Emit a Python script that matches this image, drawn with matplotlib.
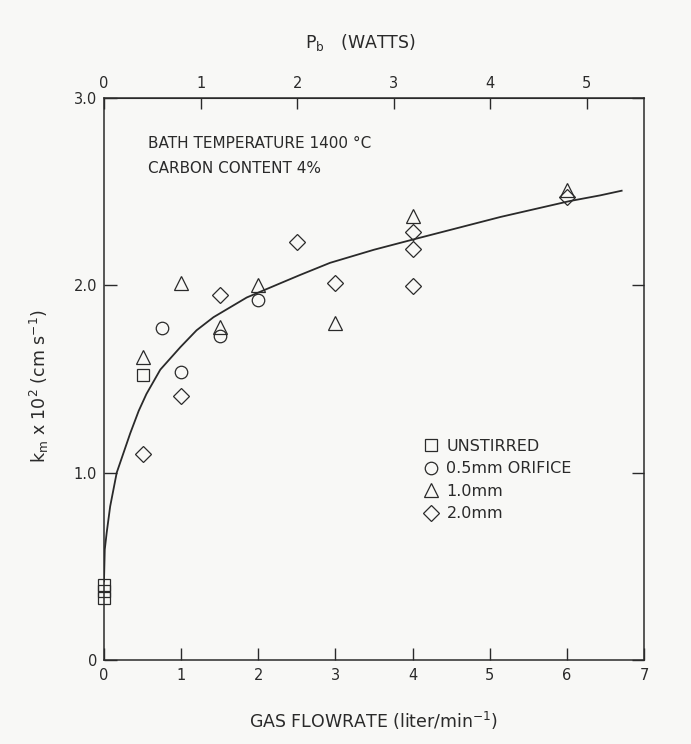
import matplotlib.pyplot as plt
from matplotlib.lines import Line2D

plt.rcParams['font.family'] = ['DejaVu Sans']
plt.rcParams['mathtext.fontset'] = 'custom'
plt.rcParams['mathtext.rm'] = 'DejaVu Sans'
plt.rcParams['mathtext.it'] = 'DejaVu Sans'
plt.rcParams['mathtext.default'] = 'regular'

# measured mass transfer coefficients, k_m x 10^2 (cm/s), vs gas flowrate (l/min)
unstirred_q = [0.0, 0.0, 0.0, 0.5]
unstirred_k = [0.40, 0.37, 0.33, 1.52]

orifice05_q = [0.75, 1.0, 1.5, 2.0]
orifice05_k = [1.77, 1.54, 1.73, 1.92]

orifice10_q = [0.5, 1.0, 1.5, 2.0, 3.0, 4.0, 6.0]
orifice10_k = [1.62, 2.01, 1.78, 2.00, 1.80, 2.37, 2.51]

orifice20_q = [0.5, 1.0, 1.5, 2.5, 3.0, 4.0, 4.0, 4.0, 6.0]
orifice20_k = [1.10, 1.41, 1.95, 2.23, 2.01, 2.285, 2.195, 1.995, 2.47]

# fitted curve through the data
fit_q = [0.0, 0.01, 0.035, 0.08, 0.165, 0.29, 0.34, 0.45, 0.55, 0.73, 0.99,
         1.2, 1.42, 1.85, 2.28, 2.54, 2.93, 3.5, 4.01, 5.14, 6.04, 6.43, 6.71]
fit_k = [0.42, 0.59, 0.68, 0.82, 1.0, 1.15, 1.21, 1.33, 1.42, 1.55, 1.67,
         1.76, 1.83, 1.935, 2.01, 2.055, 2.12, 2.19, 2.245, 2.365, 2.45, 2.48, 2.505]

flow_ticks = [0, 1, 2, 3, 4, 5, 6, 7]
km_ticks = [0, 1, 2, 3]
km_labels = ['0', '1.0', '2.0', '3.0']
watt_ticks = [0, 1, 2, 3, 4, 5]
flow_per_watt = 1.252

ink = '#2a2a2a'

fig = plt.figure(figsize=(6.91, 7.44), dpi=100, facecolor='#f8f8f6')
ax = fig.add_axes([0.1505, 0.1129, 0.7815, 0.7554])
ax.set_facecolor('none')

ax.plot(fit_q, fit_k, color=ink, lw=1.3, zorder=2)

mk = dict(ls='none', mfc='none', mec=ink, mew=0.9, zorder=3)
ax.plot(unstirred_q, unstirred_k, marker='s', ms=8.5, clip_on=False, **mk)
ax.plot(orifice05_q, orifice05_k, marker='o', ms=9, **mk)
ax.plot(orifice10_q, orifice10_k, marker='^', ms=9.5, **mk)
ax.plot(orifice20_q, orifice20_k, marker='D', ms=8, **mk)

ax.set_xlim(0, 7)
ax.set_ylim(0, 3)
for s in ax.spines.values():
    s.set_color(ink)
    s.set_linewidth(1.1)

ax.set_xticks(flow_ticks)
ax.set_yticks(km_ticks)
ax.set_yticklabels(km_labels)
ax.tick_params(axis='both', direction='in', length=9, width=1, color=ink,
               labelsize=10.5, labelcolor=ink, pad=6)
ax.tick_params(axis='y', right=True, pad=5)

top = ax.secondary_xaxis('top', functions=(lambda q: q / flow_per_watt,
                                           lambda p: p * flow_per_watt))
top.set_xticks(watt_ticks)
top.tick_params(direction='in', length=8, width=1, color=ink,
                labelsize=10.5, labelcolor=ink, pad=5)
top.spines['top'].set_color(ink)
fig.text(0.521, 0.9435, 'P$_b$   (WATTS)', fontsize=12.5, color=ink,
         ha='center', va='center')

ax.set_xlabel('GAS FLOWRATE (liter/min$^{-1}$)', fontsize=12.5, color=ink)
ax.xaxis.set_label_coords(0.499, -0.088)
ax.set_ylabel('k$_m$ x 10$^2$ (cm s$^{-1}$)', fontsize=12.5, color=ink)
ax.yaxis.set_label_coords(-0.098, 0.4875)

ax.text(0.082, 0.919, 'BATH TEMPERATURE 1400 °C', transform=ax.transAxes,
        fontsize=11, color=ink, va='center')
ax.text(0.082, 0.875, 'CARBON CONTENT 4%', transform=ax.transAxes,
        fontsize=11, color=ink, va='center')

handles = [
    Line2D([], [], marker='s', ms=8.5, **mk),
    Line2D([], [], marker='o', ms=9, **mk),
    Line2D([], [], marker='^', ms=9.5, **mk),
    Line2D([], [], marker='D', ms=8, **mk),
]
labels = ['UNSTIRRED', '0.5mm ORIFICE', '1.0mm', '2.0mm']
ax.legend(handles, labels, loc='upper left', bbox_to_anchor=(0.578, 0.4075),
          frameon=False, fontsize=11.5, handlelength=0.9, handletextpad=0.5,
          labelspacing=0.47, borderpad=0, labelcolor=ink)

fig.savefig('out.png', dpi=100, facecolor=fig.get_facecolor())
